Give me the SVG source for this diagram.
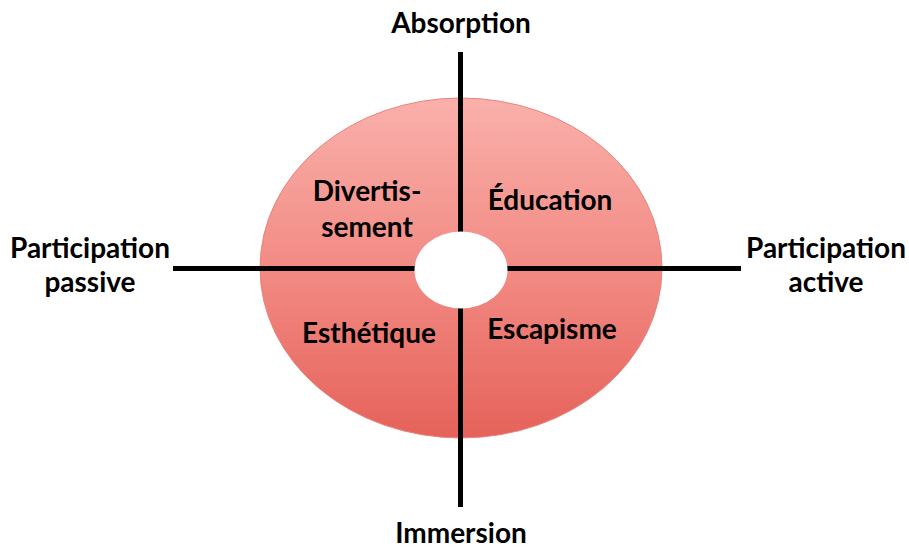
<svg xmlns="http://www.w3.org/2000/svg" width="909" height="549" viewBox="0 0 909 549">
<style>
text{font-family:Lato,"Open Sans","Liberation Sans",sans-serif;font-weight:bold;font-size:28px;fill:#000;text-anchor:middle}
.axis{stroke:#000;stroke-width:5;fill:none}
</style>
<defs>
<linearGradient id="g" x1="0" y1="0" x2="0" y2="1">
<stop offset="0" stop-color="#FAB0AB"/>
<stop offset="0.5" stop-color="#F28B84"/>
<stop offset="1" stop-color="#E5625A"/>
</linearGradient>
</defs>
<rect width="909" height="549" fill="#fff"/>
<g id="disc">
<ellipse cx="461" cy="268" rx="201" ry="170" fill="url(#g)" stroke="#E8837C" stroke-width="1"/>
</g>
<g id="axes">
<line class="axis" x1="460.5" y1="52" x2="460.5" y2="507"/>
<line class="axis" x1="173" y1="268.5" x2="741" y2="268.5"/>
</g>
<g id="center">
<ellipse cx="461" cy="270" rx="46.5" ry="38.5" fill="#fff"/>
</g>
<g id="q-divertissement"><text x="367" y="201">Divertis-</text><text x="367" y="237">sement</text></g>
<g id="q-education"><text x="550" y="210">Éducation</text></g>
<g id="q-esthetique"><text x="369" y="343">Esthétique</text></g>
<g id="q-escapisme"><text x="552" y="339">Escapisme</text></g>
<g id="label-absorption"><text x="461" y="33">Absorption</text></g>
<g id="label-immersion"><text x="461" y="543">Immersion</text></g>
<g id="label-passive"><text x="90" y="258">Participation</text><text x="90" y="292">passive</text></g>
<g id="label-active"><text x="826" y="258">Participation</text><text x="826" y="292">active</text></g>
</svg>
